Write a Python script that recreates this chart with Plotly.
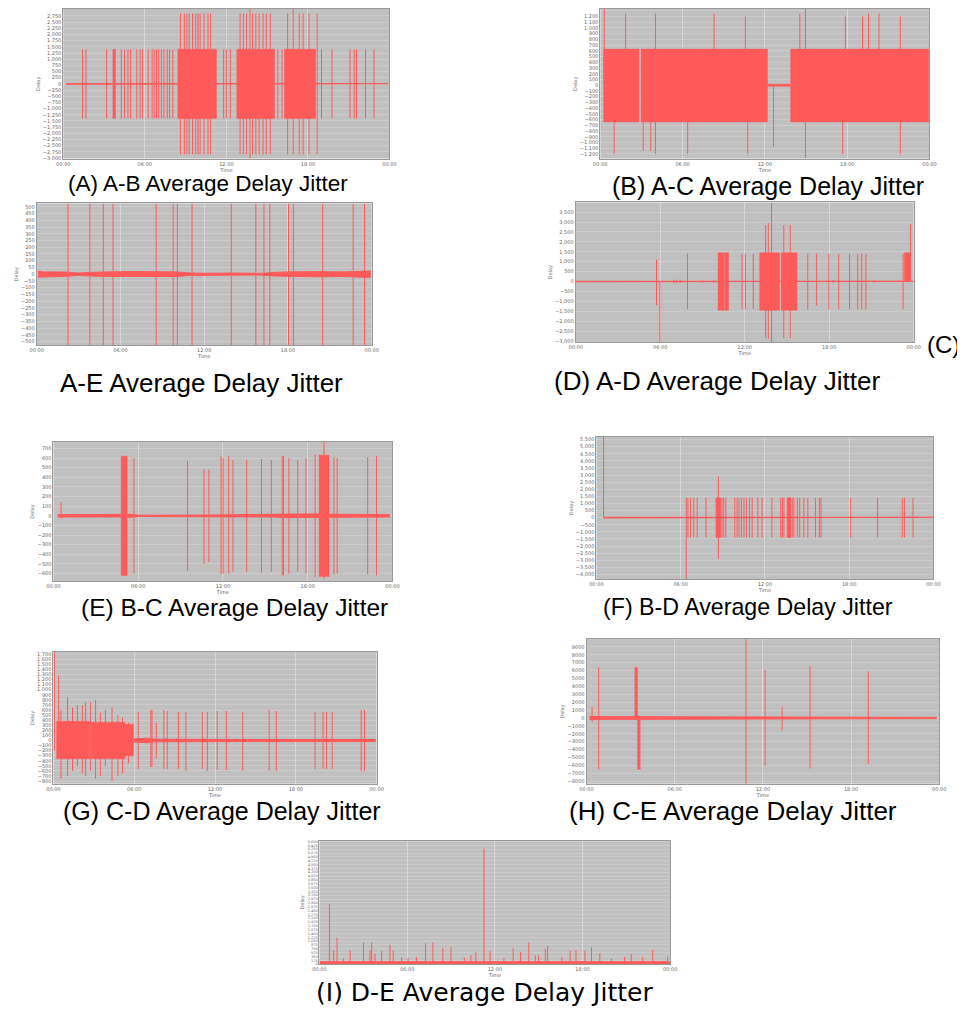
import plotly.graph_objects as go

# page body has an 8px margin: figure is sized/shifted so page pixels match
PAGE_OFF = 8
FW, FH = 957, 1005

# ---------------- (A) A-B ----------------
A_spike_t = [1.42, 1.67, 3.19, 4.27, 4.51, 4.76, 4.95, 5.41, 5.65, 5.82, 6.25, 6.54, 6.69, 6.86, 7.02, 7.22, 7.41, 7.65, 7.82, 8.06,
             8.62, 8.91, 9.10, 9.27, 9.51, 9.75, 9.92, 10.07, 10.36, 10.65, 10.84,
             11.80, 12.00, 12.29,
             13.01, 13.25, 13.49, 13.74, 13.93, 14.17, 14.41, 14.70, 14.94, 15.23,
             15.79, 16.10,
             16.51, 16.92, 17.36, 17.65, 18.08, 18.68,
             19.00, 19.77, 21.10, 21.41, 21.58, 22.24, 22.86]
A_spike_hi = [1400, 1400, 1400, 1400, 1400, 1400, 1400, 1400, 1400, 1400, 1400, 1400, 1400, 1400, 1400, 1400, 1400, 1400, 1400, 1400,
              2850, 2850, 2850, 2850, 2850, 2850, 2850, 2850, 2850, 2850, 2850,
              1400, 1400, 1400,
              2850, 2850, 2850, 3030, 2850, 2850, 2850, 2850, 2850, 2850,
              1400, 1400,
              2850, 3030, 2850, 2850, 2850, 2850,
              1400, 1400, 1400, 1400, 1400, 1400, 1400]
A_spike_lo = [-1400, -1400, -1400, -1400, -1400, -1400, -1400, -1400, -1400, -1400, -1400, -1400, -1400, -1400, -1400, -1400, -1400, -1400, -1400, -1400,
              -2850, -2850, -2850, -2850, -2850, -2850, -2850, -2850, -2850, -2850, -2850,
              -1400, -1400, -1400,
              -2850, -2850, -2850, -3030, -2850, -2850, -2850, -2850, -2850, -2850,
              -1400, -1400,
              -2850, -2850, -2850, -2850, -2850, -2850,
              -1400, -1400, -1400, -1400, -1400, -1400, -1400]
A_block_t0 = [3.65, 8.43, 12.77, 16.27]
A_block_t1 = [3.84, 11.27, 15.55, 18.56]
A_block_hi = [1400, 1400, 1400, 1400]
A_block_lo = [-1400, -1400, -1400, -1400]
A_band_t = [0.2, 23.9]
A_band_hi = [12, 12]
A_band_lo = [-12, -12]

# ---------------- (B) A-C ----------------
B_spike_t = [0.29, 1.85, 4.02, 8.30, 10.58, 10.75, 14.55, 14.96, 17.87, 19.12, 19.56, 20.32, 21.88, 1.01, 3.13, 3.68, 6.37, 12.63, 17.68]
B_spike_hi = [1330, 1250, 1250, 1250, 1200, 0, 1250, 1330, 1200, 1200, 1250, 1250, 1200, 0, 0, 0, 0, 0, 0]
B_spike_lo = [0, 0, -1200, 0, 0, -1200, 0, -1280, 0, 0, 0, 0, -1200, -1200, -1150, -1150, -1200, -1070, -1200]
B_block_t0 = [0.24, 2.97, 13.88]
B_block_t1 = [2.82, 12.19, 23.95]
B_block_hi = [630, 630, 630]
B_block_lo = [-640, -640, -640]
B_band_t = [12.19, 13.88]
B_band_hi = [15, 15]
B_band_lo = [-15, -15]

# ---------------- A-E ----------------
C_spike_t = [2.25, 3.81, 4.77, 5.47, 8.56, 9.78, 10.08, 11.13, 13.94, 15.70, 16.28, 16.70, 18.04, 18.39, 20.49, 22.67, 23.49]
C_spike_hi = [525, 525, 525, 525, 525, 525, 525, 525, 525, 525, 525, 525, 525, 525, 525, 525, 525]
C_spike_lo = [-525, -525, -525, -525, -525, -525, -525, -525, -525, -525, -525, -525, -525, -525, -525, -525, -525]
C_block_t0 = []
C_block_t1 = []
C_block_hi = []
C_block_lo = []
C_band_t = [0.1, 0.5, 2, 3, 4, 5, 6, 8, 10, 11, 12, 14, 16, 17, 18, 20, 22, 23.5, 23.9]
C_band_hi = [22, 17, 16, 9, 14, 17, 19, 19, 17, 9, 7, 9, 6, 13, 17, 19, 17, 22, 24]
C_band_lo = [-22, -17, -16, -9, -14, -17, -19, -19, -17, -9, -7, -9, -6, -13, -17, -19, -17, -22, -24]

# ---------------- (D) A-D ----------------
D_spike_t = [5.74, 5.98, 6.96, 7.14, 7.42, 7.94, 8.99, 9.81, 11.81, 12.05, 12.61, 13.49, 13.68, 13.91, 14.78, 15.24, 16.48, 17.11, 17.98, 18.28, 18.68, 19.45, 20.03, 20.31, 20.61, 21.20, 23.25, 23.77]
D_spike_hi = [1100, 0, 100, 80, 80, 1400, 60, 60, 1400, 1400, 1400, 2850, 2950, 3990, 2850, 2850, 1400, 1400, 1400, 80, 1400, 1400, 1400, 1400, 1400, 60, 1400, 2900]
D_spike_lo = [-1200, -3050, -100, -80, -80, -1400, -60, -60, -1400, -1400, -1400, -2850, -2900, -3050, -2850, -2850, -1400, -1200, -1400, -80, -1400, -1400, -1400, -1400, -1400, -60, -1400, 0]
D_block_t0 = [10.11, 10.58, 13.07, 14.59, 23.35]
D_block_t1 = [10.53, 10.86, 14.47, 15.71, 23.77]
D_block_hi = [1450, 1450, 1450, 1450, 1450]
D_block_lo = [-1450, -1450, -1450, -1450, 0]
D_band_t = [0.0, 24.0]
D_band_hi = [12, 12]
D_band_lo = [-12, -12]

# ---------------- (E) B-C ----------------
E_spike_t = [0.54, 5.70, 9.50, 10.66, 11.01, 11.87, 12.01, 12.41, 12.71, 13.69, 14.73, 15.43, 16.20, 16.29, 16.67, 17.30, 17.88, 18.53, 19.16, 19.86, 20.09, 22.25, 22.88]
E_spike_hi = [140, 600, 570, 480, 480, 620, 600, 620, 580, 580, 590, 580, 620, 620, 600, 580, 600, 640, 770, 610, 600, 610, 620]
E_spike_lo = [-30, -600, -570, -500, -480, -610, -600, -600, -580, -580, -590, -580, -620, -620, -600, -580, -600, -640, -650, -610, -600, -610, -620]
E_block_t0 = [4.80, 18.81]
E_block_t1 = [5.22, 19.51]
E_block_hi = [620, 630]
E_block_lo = [-620, -630]
E_band_t = [0.3, 4.5, 5.5, 6, 9, 11, 13, 15.5, 16.5, 18, 20, 22, 23.8]
E_band_hi = [12, 12, 16, 7, 5, 8, 12, 12, 18, 20, 18, 14, 12]
E_band_lo = [-12, -12, -16, -7, -5, -8, -12, -12, -18, -20, -18, -14, -12]

# ---------------- (F) B-D ----------------
F_spike_t = [0.51, 6.40, 6.52, 6.71, 6.94, 7.18, 7.81, 8.53, 8.62, 8.69, 8.76, 8.85, 8.95, 9.07, 9.22, 9.86, 10.02, 10.16, 10.33, 10.51, 10.68, 10.91, 11.10, 11.50, 11.80, 12.50, 13.13, 13.25, 13.36, 13.60, 13.72, 13.84, 13.95, 14.07, 14.31, 14.48, 14.78, 15.06, 15.60, 15.88, 16.00, 18.11, 20.03, 21.78, 21.94, 22.55]
F_spike_hi = [5700, 1400, 1400, 1400, 1400, 1400, 1400, 1400, 1400, 2900, 1400, 1400, 1400, 1400, 1400, 1400, 1400, 1400, 1400, 1400, 1400, 1400, 1400, 1400, 1400, 1400, 1400, 1400, 1400, 1400, 1400, 1400, 1400, 1400, 1400, 1400, 1400, 1400, 1400, 1400, 1400, 1400, 1400, 1400, 1400, 1400]
F_spike_lo = [0, -4340, -1400, -1400, -1400, -1400, -1400, -1400, -1400, -2900, -1400, -1400, -1400, -1400, -1400, -1400, -1400, -1400, -1400, -1400, -1400, -1400, -1400, -1400, -1400, -1400, -1400, -1400, -1400, -1400, -1400, -1400, -1400, -1400, -1400, -1400, -1400, -1400, -1400, -1400, -1400, -1400, -1400, -1400, -1400, -1400]
F_block_t0 = [8.55, 13.62]
F_block_t1 = [8.80, 13.82]
F_block_hi = [1400, 1400]
F_block_lo = [-1400, -1400]
F_band_t = [0.5, 24.0]
F_band_hi = [25, 25]
F_band_lo = [-25, -25]

# ---------------- (G) C-D ----------------
G_spike_t = [0.07, 0.39, 0.56, 1.05, 1.42, 1.78, 2.15, 2.39, 2.76, 3.13, 3.49, 3.86, 4.35, 4.79, 5.13, 5.57, 6.30, 7.23, 7.32, 7.64, 8.20, 8.45, 9.28, 9.84, 11.06, 11.43, 12.16, 12.84, 14.06, 16.02, 16.55, 19.43, 20.02, 20.27, 20.70, 22.85, 23.10]
G_spike_hi = [1740, 1280, 600, 850, 650, 700, 700, 750, 750, 800, 550, 600, 650, 500, 450, 350, 560, 600, 600, 350, 600, 580, 560, 560, 560, 560, 580, 580, 560, 600, 580, 560, 560, 560, 560, 600, 600]
G_spike_lo = [-200, -300, -750, -700, -600, -500, -650, -700, -600, -750, -700, -500, -800, -700, -650, -450, -560, -520, -520, -350, -560, -560, -560, -600, -560, -600, -580, -580, -600, -600, -600, -560, -560, -560, -560, -600, -600]
G_block_t0 = [0.24, 2.80, 5.32]
G_block_t1 = [2.70, 5.32, 5.95]
G_block_hi = [380, 360, 320]
G_block_lo = [-360, -360, -300]
G_band_t = [5.95, 7.0, 7.5, 10, 14, 18, 20, 22, 23.9]
G_band_hi = [30, 45, 25, 20, 20, 20, 25, 20, 20]
G_band_lo = [-30, -45, -25, -20, -20, -20, -25, -20, -20]

# ---------------- (H) C-E ----------------
H_spike_t = [0.38, 0.83, 10.85, 12.15, 13.31, 15.21, 19.17]
H_spike_hi = [1400, 6400, 9990, 6100, 1400, 6600, 5900]
H_spike_lo = [-500, -6500, -8320, -6100, -1600, -6400, -5800]
H_block_t0 = [3.29, 3.47]
H_block_t1 = [3.47, 3.65]
H_block_hi = [6400, 0]
H_block_lo = [0, -6500]
H_band_t = [0.2, 6.0, 6.2, 23.8]
H_band_hi = [180, 150, 80, 80]
H_band_lo = [-180, -150, -80, -80]

# ---------------- (I) D-E ----------------
I_spike_t = [0.68, 0.97, 1.20, 1.65, 2.10, 3.01, 3.46, 3.57, 3.80, 4.25, 4.82, 5.04, 5.61, 6.06, 6.63, 7.26, 7.76, 8.44, 9.00, 9.91, 10.36, 10.70, 11.26, 11.67, 12.62, 13.25, 13.75, 14.32, 14.77, 14.99, 15.45, 15.61, 16.58, 17.15, 17.55, 18.16, 18.61, 19.18, 19.97, 20.88, 21.33, 22.12, 22.80, 23.82]
I_spike_hi = [2735, 625, 1208, 262, 625, 990, 625, 990, 480, 597, 888, 625, 305, 262, 335, 960, 990, 742, 771, 305, 407, 553, 5280, 597, 262, 742, 553, 990, 407, 407, 698, 844, 335, 625, 625, 625, 771, 509, 262, 335, 451, 335, 655, 364]
I_spike_lo = [0] * 44
I_block_t0 = []
I_block_t1 = []
I_block_hi = []
I_block_lo = []
I_band_t = [0.0, 24.0]
I_band_hi = [110, 110]
I_band_lo = [0, 0]

X_TICKS = [0, 6, 12, 18, 24]
X_LABELS = ["00:00", "06:00", "12:00", "18:00", "00:00"]

PANELS = [
    dict(box=(57, 388, 8, 158), yr=[-3020, 3030], dt=250, fmt=",", fs=5,
         data=(A_spike_t, A_spike_hi, A_spike_lo, A_block_t0, A_block_t1, A_block_hi, A_block_lo, A_band_t, A_band_hi, A_band_lo)),
    dict(box=(602, 936, 8, 158), yr=[-1280, 1330], dt=100, fmt=",", fs=5,
         data=(B_spike_t, B_spike_hi, B_spike_lo, B_block_t0, B_block_t1, B_block_hi, B_block_lo, B_band_t, B_band_hi, B_band_lo)),
    dict(box=(30, 370, 203, 345), yr=[-525, 525], dt=50, fmt=",", fs=5,
         data=(C_spike_t, C_spike_hi, C_spike_lo, C_block_t0, C_block_t1, C_block_hi, C_block_lo, C_band_t, C_band_hi, C_band_lo)),
    dict(box=(577, 920, 202, 342), yr=[-3050, 3990], dt=500, fmt=",", fs=5,
         data=(D_spike_t, D_spike_hi, D_spike_lo, D_block_t0, D_block_t1, D_block_hi, D_block_lo, D_band_t, D_band_hi, D_band_lo)),
    dict(box=(47, 391, 442, 582), yr=[-680, 770], dt=100, fmt=",", fs=5,
         data=(E_spike_t, E_spike_hi, E_spike_lo, E_block_t0, E_block_t1, E_block_hi, E_block_lo, E_band_t, E_band_hi, E_band_lo)),
    dict(box=(598, 940, 437, 580), yr=[-4340, 5700], dt=500, fmt=",", fs=5,
         data=(F_spike_t, F_spike_hi, F_spike_lo, F_block_t0, F_block_t1, F_block_hi, F_block_lo, F_band_t, F_band_hi, F_band_lo)),
    dict(box=(47, 375, 653, 785), yr=[-850, 1740], dt=100, fmt=",", fs=5,
         data=(G_spike_t, G_spike_hi, G_spike_lo, G_block_t0, G_block_t1, G_block_hi, G_block_lo, G_band_t, G_band_hi, G_band_lo)),
    dict(box=(588, 946, 640, 785), yr=[-8320, 9990], dt=1000, fmt="d", fs=5,
         data=(H_spike_t, H_spike_hi, H_spike_lo, H_block_t0, H_block_t1, H_block_hi, H_block_lo, H_band_t, H_band_hi, H_band_lo)),
    dict(box=(317, 673, 842, 966), yr=[0, 5650], dt=175, fmt=",", fs=3.5,
         data=(I_spike_t, I_spike_hi, I_spike_lo, I_block_t0, I_block_t1, I_block_hi, I_block_lo, I_band_t, I_band_hi, I_band_lo)),
]

# text, centre x, centre y (page px), font size, anchor, font family
SANS = "Liberation Sans, Arial"
CAPTIONS = [
    ("(A) A-B Average Delay Jitter", 204, 183, 22.5, "center", SANS),
    ("(B) A-C Average Delay Jitter", 772, 186, 25, "center", SANS),
    ("A-E Average Delay Jitter", 197, 383, 26, "center", SANS),
    ("(D) A-D Average Delay Jitter", 720, 381, 26, "center", SANS),
    ("(C)", 969, 345, 24, "right", SANS),
    ("(E) B-C Average Delay Jitter", 231, 608, 24.5, "center", SANS),
    ("(F) B-D Average Delay Jitter", 752, 608, 23.2, "center", SANS),
    ("(G) C-D Average Delay Jitter", 218, 812, 25, "center", SANS),
    ("(H) C-E Average Delay Jitter", 737, 812, 26, "center", SANS),
    ("(I) D-E Average Delay Jitter", 484, 994, 25, "center", "DejaVu Sans, Liberation Sans"),
]

LINE_COL = "#ff5a5a"
FILL_COL = "#ff5a5a"
BG = "#c0c0c0"


def fx(px):
    return (px - PAGE_OFF) / FW


def fy(py):
    return 1 - (py - PAGE_OFF) / FH


fig = go.Figure()
layout = dict(width=FW, height=FH, margin=dict(l=0, r=0, t=0, b=0),
              paper_bgcolor="white", plot_bgcolor=BG, showlegend=False)
annotations = []

for i, p in enumerate(PANELS, start=1):
    st, sh, sl, b0, b1, bh, bl, nt, nh, nl = p["data"]
    xa = "x" if i == 1 else f"x{i}"
    ya = "y" if i == 1 else f"y{i}"
    fig.add_trace(go.Scatter(x=list(nt) + list(nt)[::-1], y=list(nh) + list(nl)[::-1],
                             fill="toself", fillcolor=FILL_COL, mode="lines",
                             line=dict(color=FILL_COL, width=1), xaxis=xa, yaxis=ya, hoverinfo="skip"))
    bx, by = [], []
    for t0, t1, h, l in zip(b0, b1, bh, bl):
        bx += [t0, t1, t1, t0, t0, None]
        by += [l, l, h, h, l, None]
    if bx:
        fig.add_trace(go.Scatter(x=bx, y=by, fill="toself", fillcolor=FILL_COL, mode="lines",
                                 line=dict(color=FILL_COL, width=0.5), xaxis=xa, yaxis=ya, hoverinfo="skip"))
    sx, sy = [], []
    for t, h, l in zip(st, sh, sl):
        sx += [t, t, None]
        sy += [l, h, None]
    fig.add_trace(go.Scatter(x=sx, y=sy, mode="lines", line=dict(color=LINE_COL, width=1),
                             xaxis=xa, yaxis=ya, hoverinfo="skip"))

    l, r, t, b = p["box"]
    xkey = "xaxis" if i == 1 else f"xaxis{i}"
    ykey = "yaxis" if i == 1 else f"yaxis{i}"
    tickfont = dict(family="DejaVu Sans", size=5, color="#666")
    ytickfont = dict(family="DejaVu Sans", size=p["fs"], color="#666")
    layout[xkey] = dict(domain=[fx(l), fx(r)], anchor=ya, range=[0, 24],
                        tickvals=X_TICKS, ticktext=X_LABELS, tickfont=tickfont,
                        showgrid=True, gridcolor="rgba(255,255,255,0.35)", gridwidth=1,
                        zeroline=False, showline=True, linecolor="#9a9a9a", mirror=True,
                        ticks="", title=dict(text="Time", font=tickfont, standoff=0))
    layout[ykey] = dict(domain=[fy(b), fy(t)], anchor=xa, range=p["yr"],
                        dtick=p["dt"], tick0=0, tickformat=p["fmt"], tickfont=ytickfont,
                        showgrid=True, gridcolor="rgba(255,255,255,0.18)", gridwidth=1,
                        zeroline=False, showline=True, linecolor="#9a9a9a", mirror=True,
                        ticks="", title=dict(text="Delay", font=tickfont, standoff=2))

for text, cx, cy, size, anchor, fam in CAPTIONS:
    annotations.append(dict(text=text, x=fx(cx), y=fy(cy), xref="paper", yref="paper",
                            xanchor=anchor, yanchor="middle", showarrow=False,
                            font=dict(family=fam, size=size, color="black")))

layout["annotations"] = annotations
fig.update_layout(**layout)
fig.write_html("out.html")
